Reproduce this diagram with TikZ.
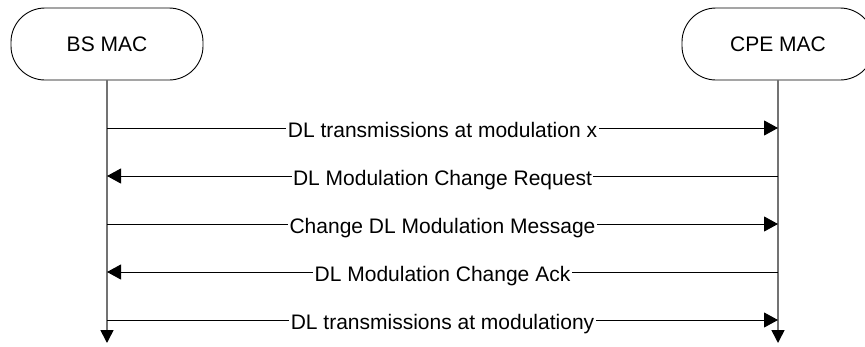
\documentclass[tikz,border=0pt]{standalone}
\usepackage{fontspec}
\setmainfont{Liberation Sans}
\usetikzlibrary{arrows.meta}
\begin{document}
\begin{tikzpicture}[x=1pt,y=1pt,
  entity/.style={draw=black, line width=0.9pt, rounded corners=34pt, minimum width=192pt, minimum height=72pt, inner sep=0pt, font=\fontsize{21}{24}\selectfont},
  life/.style={draw=black!55, line width=1.6pt, -{Triangle[length=13pt,width=13pt,color=black]}},
  msg/.style={draw=black, line width=0.9pt, -{Triangle[length=14pt,width=15pt]}},
  lbl/.style={fill=white, inner xsep=1.5pt, inner ysep=0pt, anchor=base, yshift=-9.5pt, font=\fontsize{21}{24}\selectfont}
]
\useasboundingbox (0,0) rectangle (865,-346);
\node[entity] (bs) at (107,-44) {BS MAC};
\node[entity] (cpe) at (778,-44) {CPE MAC};
\coordinate (bsend) at (107,-343);
\coordinate (cpeend) at (778,-343);
\draw[life] (bs.south) -- (bsend);
\draw[life] (cpe.south) -- (cpeend);
\foreach \i/\y in {1/128,2/176,3/224,4/272,5/320}{
  \coordinate (l\i) at (107,-\y);
  \coordinate (r\i) at (778,-\y);
}
\draw[msg] (l1) -- node[lbl] {DL transmissions at modulation x} (r1);
\draw[msg] (r2) -- node[lbl] {DL Modulation Change Request} (l2);
\draw[msg] (l3) -- node[lbl] {Change DL Modulation Message} (r3);
\draw[msg] (r4) -- node[lbl] {DL Modulation Change Ack} (l4);
\draw[msg] (l5) -- node[lbl] {DL transmissions at modulationy} (r5);
\end{tikzpicture}
\end{document}
